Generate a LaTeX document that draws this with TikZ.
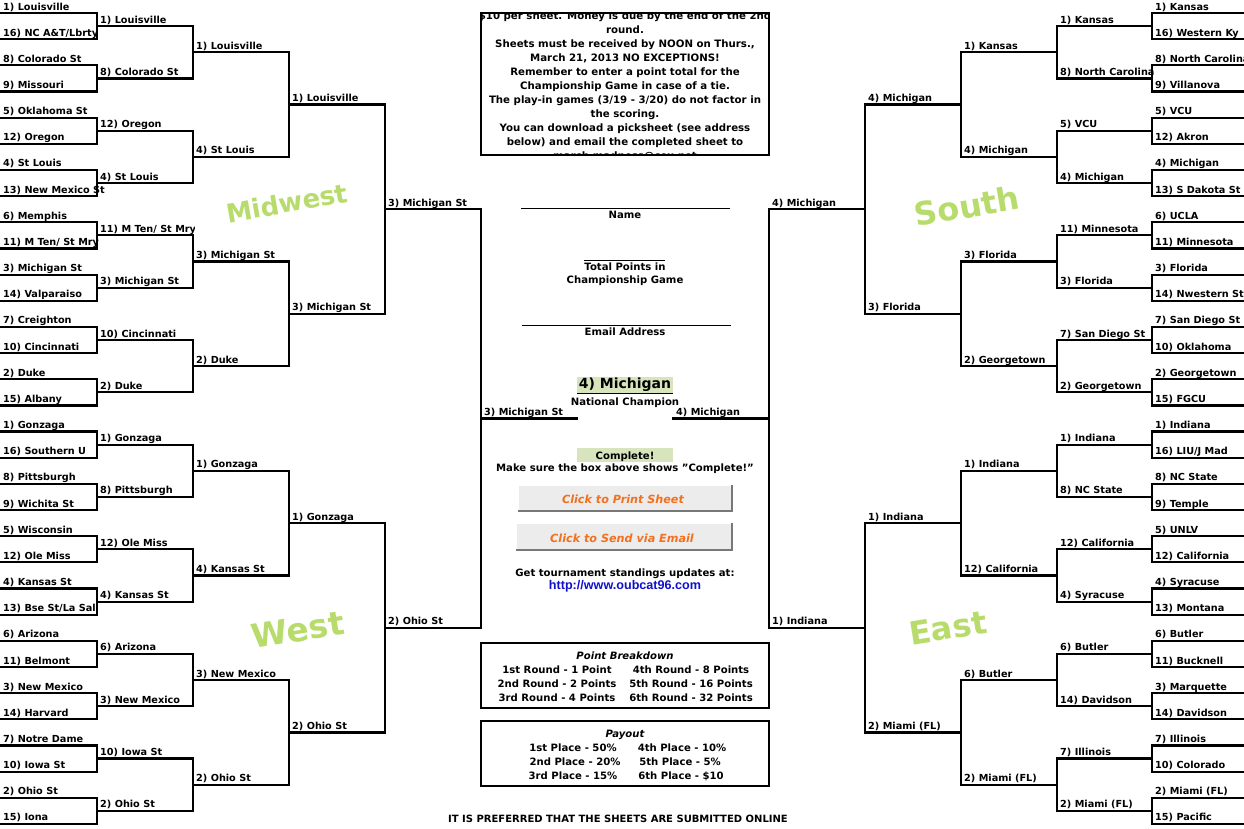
\documentclass[tikz,border=0pt]{standalone}
\usepackage{fontspec}
\setmainfont{DejaVu Sans}
\newfontfamily\urlfont{Liberation Sans}
\usetikzlibrary{calc}
\definecolor{bgreen}{RGB}{216,228,188}
\definecolor{lblfill}{RGB}{184,220,108}
\definecolor{btnorange}{RGB}{242,112,30}
\definecolor{urlblue}{RGB}{16,16,204}
\definecolor{btnfill}{RGB}{236,236,236}
\definecolor{btnedge}{RGB}{120,120,120}
\pgfdeclarelayer{bg}
\pgfsetlayers{bg,main}
\newcommand\brround[5]{% tag, x0, x1, step, list
  \foreach \t [count=\k from 0] in {#5} {
    \pgfmathsetmacro\yy{13+26.16*(#4*\k+(#4-1)/2)}
    \begin{pgfonlayer}{bg}
      \fill[bgreen] (#2,\yy-13) rectangle (#3,\yy);
    \end{pgfonlayer}
    \coordinate (#1a-\k) at (#2,\yy);
    \coordinate (#1b-\k) at (#3,\yy);
    \draw[br] (#1a-\k) -- (#1b-\k);
    \begin{scope}
      \clip (#2,\yy-15) rectangle (#3+1,\yy+4);
      \node[team] (#1t-\k) at (#2+3,\yy-3) {\t};
    \end{scope}
  }}
\newcommand\vjoin[3]{% tag, side, pairs
  \foreach \k in {1,...,#3} {
    \pgfmathtruncatemacro\p{2*\k-2}
    \pgfmathtruncatemacro\q{2*\k-1}
    \draw[br] (#1#2-\p) -- (#1#2-\q);
  }}
\begin{document}
\begin{tikzpicture}[x=1pt,y=-1pt,
  br/.style={line width=2.2pt, line cap=rect},
  team/.style={anchor=base west, inner sep=0pt, font=\fontsize{9.7}{12}\selectfont\bfseries},
  ctr/.style={anchor=base, inner sep=0pt, font=\fontsize{10.1}{12}\selectfont\bfseries},
  boxb/.style={line width=2.2pt},
  region/.style={inner sep=0pt, text=lblfill},
  btntext/.style={anchor=base, inner sep=0pt, text=btnorange, font=\fontsize{11.2}{13}\selectfont\bfseries\itshape},
]
\useasboundingbox (0,0) rectangle (1244,828);
\fill[white] (0,0) rectangle (1244,828);

% ---------- left first round ----------
\foreach \t [count=\i from 0] in {{1) Louisville},{16) NC A\&T/Lbrty},{8) Colorado St},{9) Missouri},{5) Oklahoma St},{12) Oregon},{4) St Louis},{13) New Mexico St},{6) Memphis},{11) M Ten/ St Mry},{3) Michigan St},{14) Valparaiso},{7) Creighton},{10) Cincinnati},{2) Duke},{15) Albany},{1) Gonzaga},{16) Southern U},{8) Pittsburgh},{9) Wichita St},{5) Wisconsin},{12) Ole Miss},{4) Kansas St},{13) Bse St/La Sal},{6) Arizona},{11) Belmont},{3) New Mexico},{14) Harvard},{7) Notre Dame},{10) Iowa St},{2) Ohio St},{15) Iona}} {
  \pgfmathsetmacro\yy{13+26.16*\i}
  \coordinate (L1e-\i) at (-2,\yy);
  \coordinate (L1b-\i) at (97,\yy);
  \draw[br] (L1e-\i) -- (L1b-\i);
  \node[team] (L1t-\i) at (3,\yy-3) {\t};
}
% ---------- right first round ----------
\foreach \t [count=\i from 0] in {{1) Kansas},{16) Western Ky},{8) North Carolina},{9) Villanova},{5) VCU},{12) Akron},{4) Michigan},{13) S Dakota St},{6) UCLA},{11) Minnesota},{3) Florida},{14) Nwestern St},{7) San Diego St},{10) Oklahoma},{2) Georgetown},{15) FGCU},{1) Indiana},{16) LIU/J Mad},{8) NC State},{9) Temple},{5) UNLV},{12) California},{4) Syracuse},{13) Montana},{6) Butler},{11) Bucknell},{3) Marquette},{14) Davidson},{7) Illinois},{10) Colorado},{2) Miami (FL)},{15) Pacific}} {
  \pgfmathsetmacro\yy{13+26.16*\i}
  \coordinate (R1a-\i) at (1152,\yy);
  \coordinate (R1e-\i) at (1246,\yy);
  \draw[br] (R1a-\i) -- (R1e-\i);
  \node[team] (R1t-\i) at (1155,\yy-3) {\t};
}

% ---------- left later rounds ----------
\brround{L2}{97}{193}{2}{{1) Louisville},{8) Colorado St},{12) Oregon},{4) St Louis},{11) M Ten/ St Mry},{3) Michigan St},{10) Cincinnati},{2) Duke},{1) Gonzaga},{8) Pittsburgh},{12) Ole Miss},{4) Kansas St},{6) Arizona},{3) New Mexico},{10) Iowa St},{2) Ohio St}}
\brround{L3}{193}{289}{4}{{1) Louisville},{4) St Louis},{3) Michigan St},{2) Duke},{1) Gonzaga},{4) Kansas St},{3) New Mexico},{2) Ohio St}}
\brround{L4}{289}{385}{8}{{1) Louisville},{3) Michigan St},{1) Gonzaga},{2) Ohio St}}
\brround{L5}{385}{481}{16}{{3) Michigan St},{2) Ohio St}}
\brround{L6}{481}{577}{32}{{3) Michigan St}}

% ---------- right later rounds ----------
\brround{R2}{1057}{1152}{2}{{1) Kansas},{8) North Carolina},{5) VCU},{4) Michigan},{11) Minnesota},{3) Florida},{7) San Diego St},{2) Georgetown},{1) Indiana},{8) NC State},{12) California},{4) Syracuse},{6) Butler},{14) Davidson},{7) Illinois},{2) Miami (FL)}}
\brround{R3}{961}{1057}{4}{{1) Kansas},{4) Michigan},{3) Florida},{2) Georgetown},{1) Indiana},{12) California},{6) Butler},{2) Miami (FL)}}
\brround{R4}{865}{961}{8}{{4) Michigan},{3) Florida},{1) Indiana},{2) Miami (FL)}}
\brround{R5}{769}{865}{16}{{4) Michigan},{1) Indiana}}
\brround{R6}{673}{769}{32}{{4) Michigan}}

% ---------- vertical joins ----------
\vjoin{L1}{b}{16}
\vjoin{L2}{b}{8}
\vjoin{L3}{b}{4}
\vjoin{L4}{b}{2}
\vjoin{L5}{b}{1}
\vjoin{R1}{a}{16}
\vjoin{R2}{a}{8}
\vjoin{R3}{a}{4}
\vjoin{R4}{a}{2}
\vjoin{R5}{a}{1}

% ---------- region labels ----------
\node[region, rotate=10, font=\fontsize{26}{26}\selectfont\bfseries] (mw) at (287,203) {Midwest};
\node[region, rotate=9, font=\fontsize{33}{33}\selectfont\bfseries] (w) at (298,630) {West};
\node[region, rotate=10, font=\fontsize{32}{32}\selectfont\bfseries] (s) at (967,206) {South};
\node[region, rotate=9, font=\fontsize{32}{32}\selectfont\bfseries] (e) at (948,628) {East};

% ---------- info box ----------
\draw[boxb] (481,13) rectangle (769,155);
\begin{scope}
  \clip (482,14) rectangle (768,154);
  \foreach \t [count=\i from 0] in {{\$10 per sheet. Money is due by the end of the 2nd},{round.},{Sheets must be received by NOON on Thurs.,},{March 21, 2013 NO EXCEPTIONS!},{Remember to enter a point total for the},{Championship Game in case of a tie.},{The play-in games (3/19 - 3/20) do not factor in},{the scoring.},{You can download a picksheet (see address},{below) and email the completed sheet to},{march.madness@cox.net}} {
    \node[ctr, font=\fontsize{10.2}{12}\selectfont\bfseries] (info-\i) at (625,19+14*\i) {\t};
  }
\end{scope}

% ---------- entry fields ----------
\coordinate (nameL) at (521,208);
\coordinate (nameR) at (730,208);
\draw[line width=0.8pt] (nameL) -- (nameR);
\node[ctr] (name) at (625,218) {Name};
\coordinate (totL) at (584,260);
\coordinate (totR) at (665,260);
\draw[line width=0.8pt] (totL) -- (totR);
\node[ctr] (tot1) at (625,270) {Total Points in};
\node[ctr] (tot2) at (625,283) {Championship Game};
\coordinate (emL) at (522,325);
\coordinate (emR) at (731,325);
\draw[line width=0.8pt] (emL) -- (emR);
\node[ctr] (email) at (625,335) {Email Address};

% ---------- champion ----------
\fill[bgreen] (577,377) rectangle (673,393);
\draw[line width=1.2pt] (577,393.5) -- (673,393.5);
\node[ctr, font=\fontsize{14}{16}\selectfont\bfseries] (champ) at (625,388.5) {4) Michigan};
\node[ctr] (champlbl) at (625,405) {National Champion};

\fill[bgreen] (577,448) rectangle (673,462);
\node[ctr] (complete) at (625,459) {Complete!};
\node[ctr] (makesure) at (625,471) {Make sure the box above shows \symbol{34}Complete!\symbol{34}};

% ---------- buttons ----------
\fill[btnfill] (518,485) rectangle (732,511);
\draw[white, line width=1pt] (518,511) -- (518,485) -- (732,485);
\draw[btnedge, line width=1.5pt] (518,511) -- (732,511) -- (732,485);
\node[btntext] (print) at (623,503) {Click to Print Sheet};
\fill[btnfill] (516,523) rectangle (732,550);
\draw[white, line width=1pt] (516,550) -- (516,523) -- (732,523);
\draw[btnedge, line width=1.5pt] (516,550) -- (732,550) -- (732,523);
\node[btntext] (send) at (622,542) {Click to Send via Email};

\node[ctr] (getup) at (625,576) {Get tournament standings updates at:};
\node[ctr, text=urlblue, font=\fontsize{12.6}{14}\selectfont\urlfont\bfseries] (url) at (625,589.5) {http://www.oubcat96.com};

% ---------- point breakdown ----------
\draw[boxb] (481,643) rectangle (769,708);
\node[ctr, font=\fontsize{10.1}{12}\selectfont\bfseries\itshape] (pbh) at (625,659) {Point Breakdown};
\node[ctr] (pb1) at (557,673) {1st Round - 1 Point};
\node[ctr] (pb2) at (557,687) {2nd Round - 2 Points};
\node[ctr] (pb3) at (557,701) {3rd Round - 4 Points};
\node[ctr] (pb4) at (691,673) {4th Round - 8 Points};
\node[ctr] (pb5) at (691,687) {5th Round - 16 Points};
\node[ctr] (pb6) at (691,701) {6th Round - 32 Points};

% ---------- payout ----------
\draw[boxb] (481,721) rectangle (769,786);
\node[ctr, font=\fontsize{10.1}{12}\selectfont\bfseries\itshape] (payh) at (625,737) {Payout};
\node[ctr] (pay1) at (573,751) {1st Place - 50\%};
\node[ctr] (pay2) at (575,765) {2nd Place - 20\%};
\node[ctr] (pay3) at (573,779) {3rd Place - 15\%};
\node[ctr] (pay4) at (682,751) {4th Place - 10\%};
\node[ctr] (pay5) at (680,765) {5th Place - 5\%};
\node[ctr] (pay6) at (681,779) {6th Place - \$10};

\node[ctr, font=\fontsize{10}{12}\selectfont\bfseries] (pref) at (618,822) {IT IS PREFERRED THAT THE SHEETS ARE SUBMITTED ONLINE};
\end{tikzpicture}
\end{document}
